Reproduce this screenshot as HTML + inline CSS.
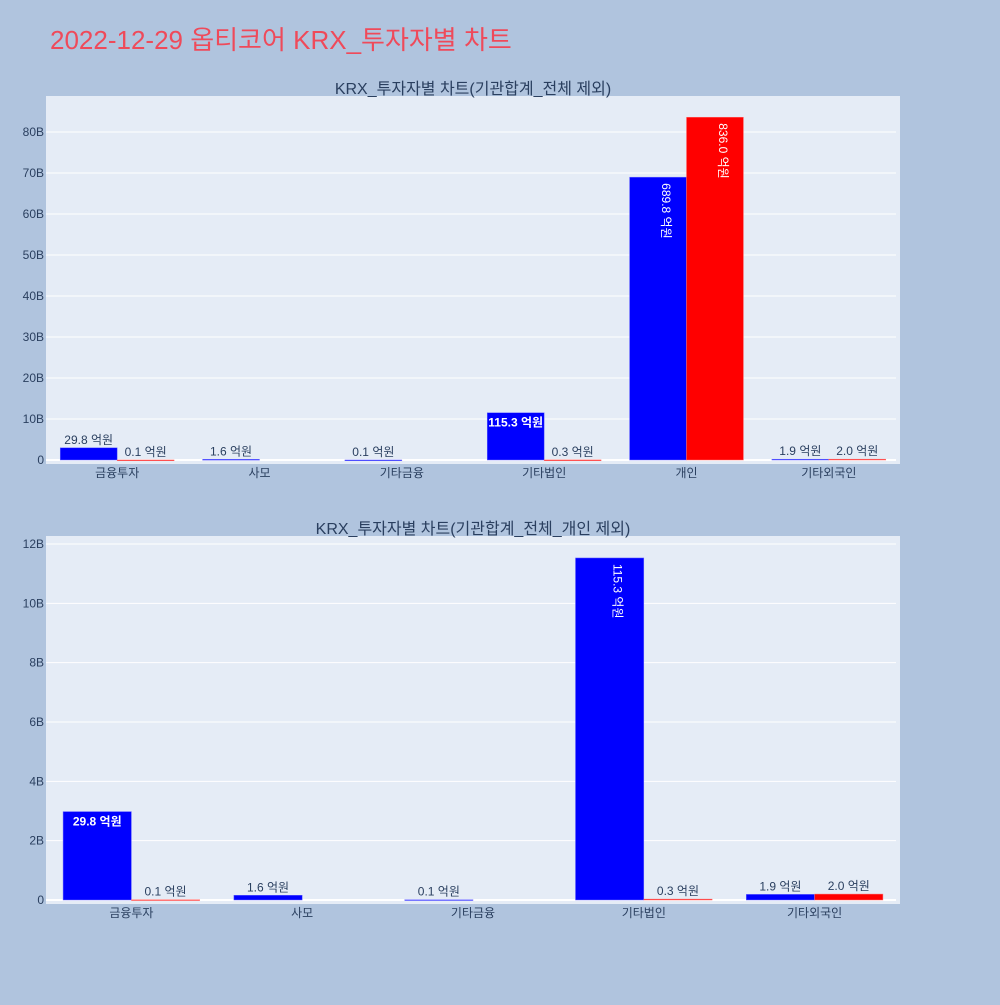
<!DOCTYPE html>
<html><head><meta charset="utf-8"><style>
body{margin:0;background:#b0c4de;font-family:"Liberation Sans","Noto Sans CJK KR",sans-serif;}
svg text{font-family:"Liberation Sans","Noto Sans CJK KR",sans-serif;}
</style></head><body>
<svg id="s" width="1000" height="1000" xmlns="http://www.w3.org/2000/svg">
<rect width="1000" height="1000" fill="#b0c4de"/>
<text x="50" y="49" font-size="26" fill="#ef4a5a">2022-12-29 옵티코어 KRX_투자자별 차트</text>
</svg>
<script>
const cats1=["금융투자","사모","기타금융","기타법인","개인","기타외국인"];
const buy1=[29.8,1.6,0.1,115.3,689.8,1.9];
const sell1=[0.1,0,0,0.3,836.0,2.0];
const ticks1=[0,10,20,30,40,50,60,70,80];
const cats2=["금융투자","사모","기타금융","기타법인","기타외국인"];
const buy2=[29.8,1.6,0.1,115.3,1.9];
const sell2=[0.1,0,0,0.3,2.0];
const ticks2=[0,2,4,6,8,10,12];
const svg=document.getElementById('s');
const NS="http://www.w3.org/2000/svg";
function mk(tag,attrs,parent){const e=document.createElementNS(NS,tag);for(const k in attrs)e.setAttribute(k,attrs[k]);(parent||svg).appendChild(e);return e;}
function chart(o){
  const g=mk('g',{});
  
  
  const bg=mk('rect',{x:o.x0,y:o.top,width:o.x1-o.x0,height:o.bottom-o.top,fill:'#e5ecf6'},g);
  
  
  const y=v=>o.zeroY-(v/o.maxT)*(o.zeroY-o.maxY);
  o.ticks.forEach(t=>{
    const l=mk('line',{x1:o.x0,x2:o.x1-4,y1:y(t),y2:y(t),stroke:'#fff','stroke-width':t===0?2:1},g);
    
    
    const tx=mk('text',{x:o.x0-2,y:y(t)+4,'font-size':12,fill:'#2a3f5f','text-anchor':'end'},g);
    tx.textContent=t===0?'0':t+'B';
    
    
  });
  const t=mk('text',{x:(o.x0+o.x1)/2,y:o.top-2,'font-size':16,fill:'#2a3f5f','text-anchor':'middle'},g);
  t.textContent=o.title;
  
  
  const step=(o.x1-o.x0)/o.cats.length, bw=step*0.4;
  o.cats.forEach((c,i)=>{
    const cx=o.x0+step*(i+0.5);
    const lab=mk('text',{x:cx,y:o.bottom+13,'font-size':12,fill:'#2a3f5f','text-anchor':'middle'},g);
    lab.textContent=c;
    
    
    [[o.buy[i],'#0000ff',cx-bw],[o.sell[i],'#ff0000',cx]].forEach(([v,col,bx],k)=>{
      if(v===0)return;
      const b=v/10, yt=y(b), h=o.zeroY-yt;
      const r=mk('rect',{x:bx,y:yt,width:bw,height:Math.max(h,0.8),fill:col,stroke:col==='#0000ff'?'#6f6fff':'#ff7070','stroke-width':0.5},g);
      
      
      const txt=v.toFixed(1)+' 억원';
      let e;
      if(h>150){
        e=mk('text',{x:0,y:0,'font-size':12,fill:'#fff','transform':`translate(${bx+bw/2+4},${yt+6}) rotate(90)`},g);
      }else if(h>25){
        e=mk('text',{x:bx+bw/2,y:yt+14,'font-size':h>60&&o.small?10:12,'font-weight':'bold',fill:'#fff','text-anchor':'middle'},g);
      }else{
        e=mk('text',{x:bx+bw/2,y:yt-4,'font-size':12,fill:'#2a3f5f','text-anchor':'middle'},g);
      }
      e.textContent=txt;
      
      
    });
  });
}
chart({name:'chart-all',x0:46,x1:900,top:96,bottom:464,zeroY:460,maxY:132,maxT:80,ticks:ticks1,cats:cats1,buy:buy1,sell:sell1,title:'KRX_투자자별 차트(기관합계_전체 제외)',small:true});
chart({name:'chart-excl-individual',x0:46,x1:900,top:536,bottom:904,zeroY:900,maxY:544,maxT:12,ticks:ticks2,cats:cats2,buy:buy2,sell:sell2,title:'KRX_투자자별 차트(기관합계_전체_개인 제외)',small:false});
</script>
</body></html>
